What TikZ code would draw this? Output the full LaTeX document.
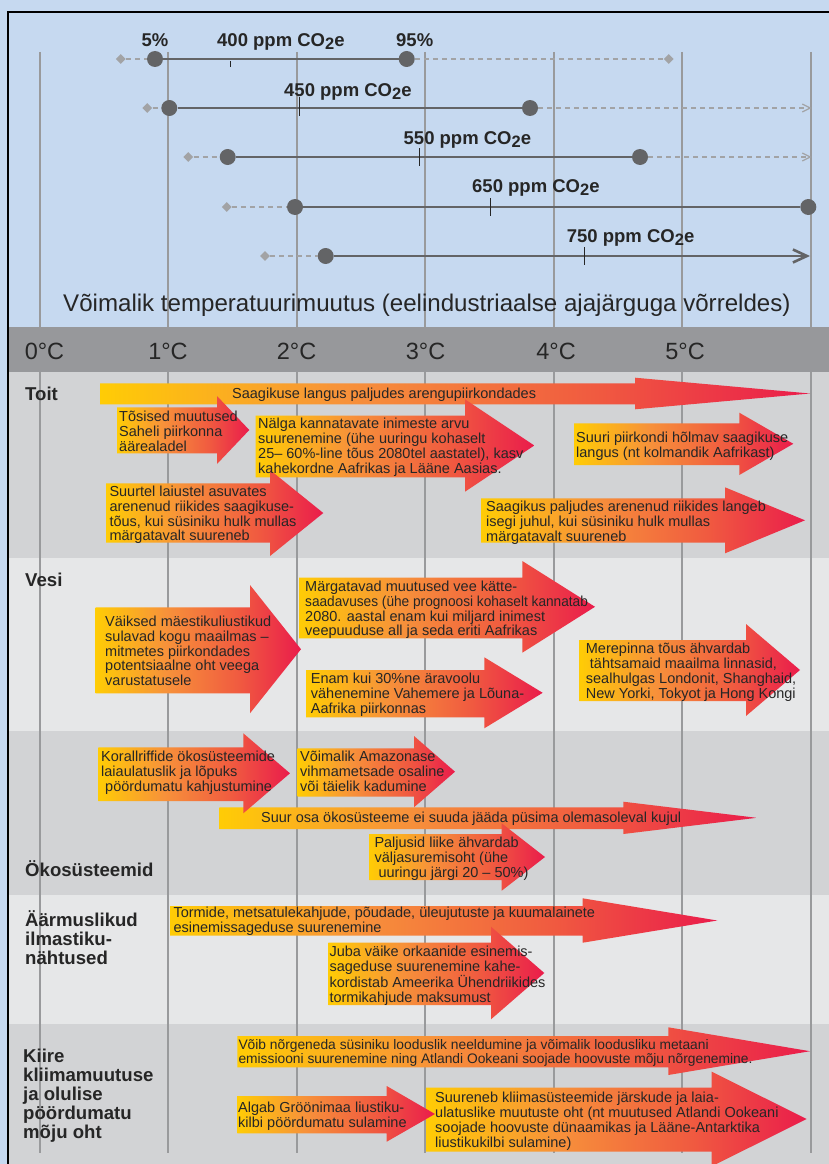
\documentclass[tikz,border=0pt]{standalone}
\usepackage{fontspec}
\setmainfont{Liberation Sans}
\usetikzlibrary{arrows.meta,shapes.geometric}
\definecolor{bgblue}{HTML}{C6D9F0}
\definecolor{hdrgray}{HTML}{97989B}
\definecolor{rowdark}{HTML}{D2D3D5}
\definecolor{rowlight}{HTML}{E6E7E8}
\definecolor{gridgray}{HTML}{999A9C}
\definecolor{dotgray}{HTML}{636466}
\definecolor{dashgray}{HTML}{A2A3A5}
\definecolor{txt}{HTML}{262626}
\definecolor{ayel}{HTML}{FFCC05}
\definecolor{aora}{HTML}{F7923A}
\definecolor{ared2}{HTML}{F05A40}
\definecolor{ared}{HTML}{EA1C4B}
\pgfdeclarehorizontalshading{arrowgrad}{100bp}{color(0bp)=(ayel); color(25bp)=(ayel); color(42bp)=(aora); color(60bp)=(ared2); color(75bp)=(ared); color(100bp)=(ared)}
\newcommand\garrow[8]{\shade[shading=arrowgrad] (#1,#2) -- (#4,#2) -- (#4,#5) -- (#7,#8) -- (#4,#6) -- (#4,#3) -- (#1,#3) -- cycle;}
\newcommand\atxt[4]{\node[atext] (#1) at (#2,#3) {\begin{tabular}[t]{@{}l@{}}#4\end{tabular}};}
\newcommand\rtxt[4]{\node[rowlab] (#1) at (#2,#3) {\begin{tabular}[t]{@{}l@{}}#4\end{tabular}};}
\newcommand\cotwo{CO\raisebox{-3pt}{\fontsize{16.5}{16.5}\selectfont 2}e}
\newcommand\hsq[1]{\scalebox{0.943}[1]{#1}}
\tikzset{
  atext/.style={anchor=base west, inner sep=0pt, text=txt, font=\fontsize{14.5}{14.7}\selectfont},
  rowlab/.style={anchor=base west, inner sep=0pt, text=txt, font=\fontsize{18.6}{18.4}\selectfont\bfseries},
  ppmlab/.style={anchor=base west, inner sep=0pt, text=txt, font=\fontsize{18.5}{19}\selectfont\bfseries},
  templab/.style={anchor=base, inner sep=0pt, text=txt, font=\fontsize{23.5}{24}\selectfont},
  gridl/.style={draw=gridgray, line width=2pt},
  dotn/.style={circle, fill=dotgray, inner sep=0pt, minimum size=16pt},
  diam/.style={diamond, fill=dashgray, inner sep=0pt, minimum width=10pt, minimum height=10pt},
  solidl/.style={draw=dotgray, line width=2.6pt},
  dashl/.style={draw=dashgray, line width=1.3pt, dash pattern=on 5pt off 4pt},
  tickl/.style={draw=txt, line width=0.9pt},
}
\begin{document}
\begin{tikzpicture}[x=1pt,y=-1pt]
\useasboundingbox (0,0) rectangle (829,1164);
% backgrounds
\fill[bgblue] (0,0) rectangle (829,1164);
\fill[hdrgray] (8,327) rectangle (829,372);
\fill[rowdark] (8,372) rectangle (829,558);
\fill[rowlight] (8,558) rectangle (829,731);
\fill[rowdark] (8,731) rectangle (829,895);
\fill[rowlight] (8,895) rectangle (829,1024);
\fill[rowdark] (8,1024) rectangle (829,1164);
\draw[black, line width=2pt] (8,1164) -- (8,12.5) -- (829,12.5);
% grid
\foreach \x in {39.5,168,296.5,425,553.5,682,810.5}{
  \draw[gridl] (\x,52) -- (\x,327);
  \draw[gridl] (\x,372) -- (\x,1153);
}
% scenario lines
% 400
\node[diam] (m400a) at (120.7,59) {};
\node[dotn] (d400a) at (155,59) {};
\node[dotn] (d400b) at (406.7,59) {};
\node[diam] (m400b) at (668.7,59) {};
\draw[dashl] (m400a) -- (d400a);
\draw[dashl] (d400b) -- (m400b);
\draw[solidl] (d400a) -- (d400b);
\draw[tickl] (230,61.5) -- (230,67.5);
% 450
\node[diam] (m450a) at (147.3,108) {};
\node[dotn] (d450a) at (169.3,108) {};
\node[dotn] (d450b) at (530,108) {};
\coordinate (e450) at (811.7,108);
\draw[dashl] (m450a) -- (d450a);
\draw[dashl,-{Straight Barb[length=8pt,width=8pt]}] (d450b) -- (e450);
\draw[solidl] (d450a) -- (d450b);
\draw[tickl] (299.3,97) -- (299.3,116);
% 550
\node[diam] (m550a) at (188.3,157) {};
\node[dotn] (d550a) at (227.7,157) {};
\node[dotn] (d550b) at (640,157) {};
\coordinate (e550) at (811.7,157);
\draw[dashl] (m550a) -- (d550a);
\draw[dashl,-{Straight Barb[length=8pt,width=8pt]}] (d550b) -- (e550);
\draw[solidl] (d550a) -- (d550b);
\draw[tickl] (419.3,148) -- (419.3,166);
% 650
\node[diam] (m650a) at (226.7,207) {};
\node[dotn] (d650a) at (295,207) {};
\node[dotn] (d650b) at (808.3,207) {};
\draw[dashl] (m650a) -- (d650a);
\draw[solidl] (d650a) -- (d650b);
\draw[tickl] (490,198) -- (490,216);
% 750
\node[diam] (m750a) at (265,256) {};
\node[dotn] (d750a) at (325.7,256) {};
\coordinate (e750) at (810,256);
\draw[dashl] (m750a) -- (d750a);
\draw[solidl,-{Straight Barb[length=14pt,width=13pt]}] (d750a) -- (e750);
\draw[tickl] (584,247) -- (584,265);
% labels top
\node[ppmlab, anchor=base] (p5) at (155,46.5) {5\%};
\node[ppmlab] (l400) at (217,46.5) {400 ppm \cotwo};
\node[ppmlab] (p95) at (396,46.5) {95\%};
\node[ppmlab] (l450) at (284,96) {450 ppm \cotwo};
\node[ppmlab] (l550) at (403.5,144.3) {550 ppm \cotwo};
\node[ppmlab] (l650) at (472,192.7) {650 ppm \cotwo};
\node[ppmlab] (l750) at (566.7,242.7) {750 ppm \cotwo};
\node[anchor=base west, inner sep=0pt, text=txt, font=\fontsize{24.1}{24}\selectfont] (title) at (63,311.5) {Võimalik temperatuurimuutus (eelindustriaalse ajajärguga võrreldes)};
% header
\node[templab] (t0) at (44.5,359) {0°C};
\node[templab] (t1) at (168,359) {1°C};
\node[templab] (t2) at (296.5,359) {2°C};
\node[templab] (t3) at (425.5,359) {3°C};
\node[templab] (t4) at (556,359) {4°C};
\node[templab] (t5) at (685,359) {5°C};
% row labels
\rtxt{rToit}{25}{400}{Toit}
\rtxt{rVesi}{25}{586.7}{Vesi}
\rtxt{rOko}{25}{876.7}{Ökosüsteemid}
\rtxt{rAar}{25}{926}{Äärmuslikud\\ilmastiku-\\nähtused}
\rtxt{rKii}{23}{1062.7}{Kiire\\kliimamuutuse\\ja olulise\\pöördumatu\\mõju oht}
% arrows
\garrow{100}{383.3}{404.3}{635}{377.7}{409.3}{810}{393.5}
\garrow{117}{407.3}{453.3}{217}{396}{464}{249.3}{430}
\garrow{255.7}{415.7}{477.3}{465}{399.3}{491.7}{534.3}{445.5}
\garrow{574}{423.3}{465}{739.3}{412.7}{475}{793.3}{443.8}
\garrow{106}{483.3}{542.7}{270}{470}{556}{323.3}{513}
\garrow{481}{498.3}{542.7}{725}{487.3}{553.3}{805}{520.3}
\garrow{95.7}{607.3}{693.3}{250}{585}{713.3}{301}{649.2}
\garrow{299}{577.7}{638.3}{522.3}{561}{652.7}{595}{606.8}
\garrow{306}{670}{717.3}{484.3}{657.3}{728.3}{542.7}{692.8}
\garrow{579.3}{640}{701}{746}{624}{716}{800}{670}
\garrow{219.3}{807.3}{829}{623.3}{801.7}{834}{756.7}{817.8}
\garrow{98.3}{747.3}{801}{243.3}{733.3}{813.3}{290}{773.3}
\garrow{297.7}{748.3}{796.7}{414}{736}{807.3}{455}{771.7}
\garrow{369.3}{834}{880}{501.7}{823.3}{890.7}{545}{857}
\garrow{170}{906}{935.7}{582.7}{898.3}{942.7}{717.3}{920.5}
\garrow{328.3}{942.7}{1005}{491}{926.7}{1019.3}{544.3}{973}
\garrow{237.3}{1036}{1067.3}{668.3}{1027.3}{1075}{810}{1051.2}
\garrow{426}{1087.7}{1151.7}{711.7}{1071.7}{1166.3}{806.7}{1119}
\garrow{237.3}{1096}{1133.3}{386.7}{1086}{1141.7}{435}{1114}
% arrow texts
\atxt{tA1}{232}{398.5}{Saagikuse langus paljudes arengupiirkondades}
\atxt{tA2}{119}{421.5}{Tõsised muutused\\Saheli piirkonna\\äärealadel}
\atxt{tA3}{258}{428.8}{Nälga kannatavate inimeste arvu\\suurenemine (ühe uuringu kohaselt\\25– 60\%-line tõus 2080tel aastatel), kasv\\kahekordne Aafrikas ja Lääne Aasias.}
\atxt{tA4}{576}{442.8}{Suuri piirkondi hõlmav saagikuse\\langus (nt kolmandik Aafrikast)}
\atxt{tA5}{109.3}{496.2}{Suurtel laiustel asuvates\\arenenud riikides saagikuse-\\tõus, kui süsiniku hulk mullas\\märgatavalt suureneb}
\atxt{tA6}{486}{511.8}{Saagikus paljudes arenenud riikides langeb\\isegi juhul, kui süsiniku hulk mullas\\märgatavalt suureneb}
\atxt{tB1}{105}{626.2}{Väiksed mäestikuliustikud\\sulavad kogu maailmas –\\mitmetes piirkondades\\potentsiaalne oht veega\\varustatusele}
\atxt{tB2}{305}{591.2}{Märgatavad muutused vee kätte-\\\hsq{saadavuses (ühe prognoosi kohaselt kannatab}\\2080. aastal enam kui miljard inimest\\veepuuduse all ja seda eriti Aafrikas}
\atxt{tB3}{310.7}{683.8}{Enam kui 30\%ne äravoolu\\vähenemine Vahemere ja Lõuna-\\Aafrika piirkonnas}
\atxt{tB4}{585.7}{653.8}{Merepinna tõus ähvardab\\\ tähtsamaid maailma linnasid,\\sealhulgas Londonit, Shanghaid,\\New Yorki, Tokyot ja Hong Kongi}
\atxt{tC1}{101}{761.2}{Korallriffide ökosüsteemide\\laiaulatuslik ja lõpuks\\\ pöördumatu kahjustumine}
\atxt{tC2}{300}{761.2}{Võimalik Amazonase\\vihmametsade osaline\\või täielik kadumine}
\atxt{tC3}{261}{822.5}{Suur osa ökosüsteeme ei suuda jääda püsima olemasoleval kujul}
\atxt{tC4}{374.3}{847.8}{Paljusid liike ähvardab\\väljasuremisoht (ühe\\\ uuringu järgi 20 – 50\%)}
\atxt{tD1}{173.3}{917.8}{Tormide, metsatulekahjude, põudade, üleujutuste ja kuumalainete\\esinemissageduse suurenemine}
\atxt{tD2}{329.3}{956.2}{Juba väike orkaanide esinemis-\\sageduse suurenemine kahe-\\kordistab Ameerika Ühendriikides\\tormikahjude maksumust}
\node[atext, font=\fontsize{13.8}{14.3}\selectfont] (tE1) at (238.3,1049.5) {\begin{tabular}[t]{@{}l@{}}Võib nõrgeneda süsiniku looduslik neeldumine ja võimalik loodusliku metaani\\emissiooni suurenemine ning Atlandi Ookeani soojade hoovuste mõju nõrgenemine.\end{tabular}};
\atxt{tE2}{238}{1112.8}{Algab Gröönimaa liustiku-\\kilbi pöördumatu sulamine}
\atxt{tE3}{435}{1102.8}{Suureneb kliimasüsteemide järskude ja laia-\\ulatuslike muutuste oht (nt muutused Atlandi Ookeani\\soojade hoovuste dünaamikas ja Lääne-Antarktika\\liustikukilbi sulamine)}
\end{tikzpicture}
\end{document}
